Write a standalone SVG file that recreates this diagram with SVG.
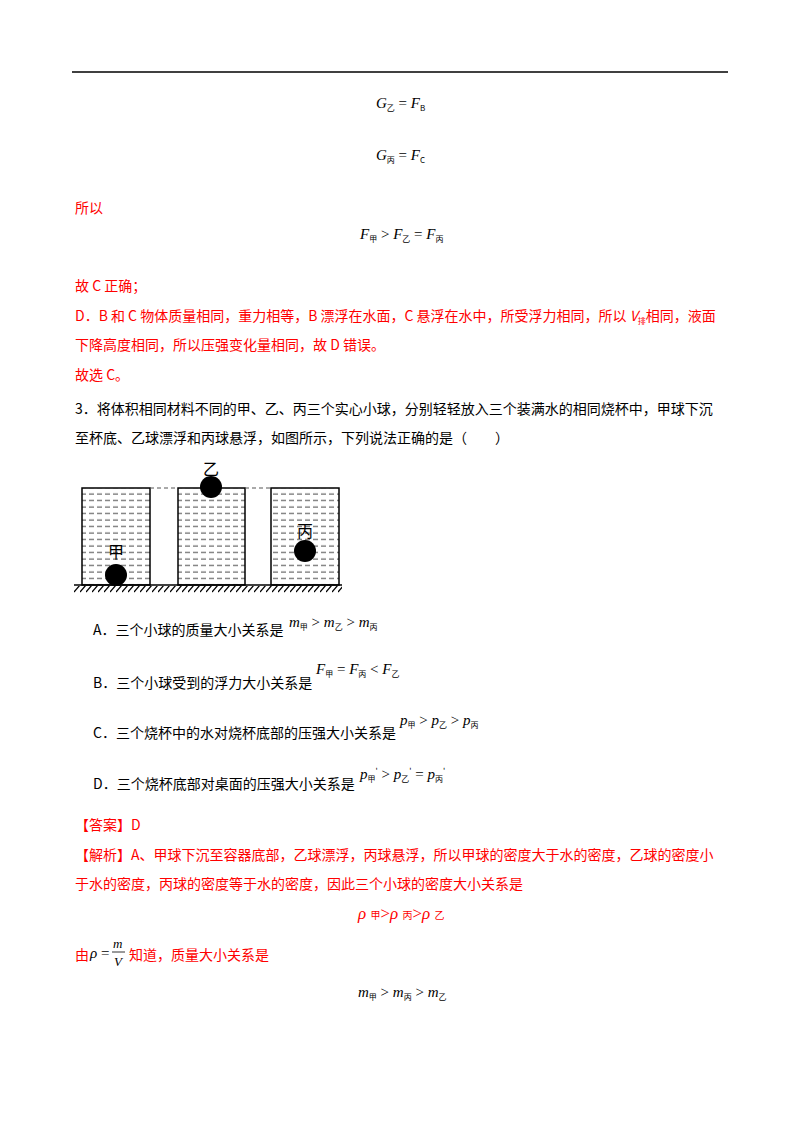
<svg xmlns="http://www.w3.org/2000/svg" width="800" height="1132" viewBox="0 0 800 1132">
<style>
text{font-family:"Liberation Serif","Noto Sans CJK SC",serif;font-size:14px;fill:#000}
.r{fill:#ff0000}
.m{font-family:"Liberation Serif",serif;font-style:italic;font-size:15px}
.s{font-size:8px;font-style:normal;font-family:"Noto Sans CJK SC",serif}
.cn{font-family:"Noto Sans CJK SC",sans-serif}
.lb{font-family:"Noto Sans CJK SC",sans-serif;font-size:16px}
</style>
<defs>
<pattern id="w" width="8" height="6.5" patternUnits="userSpaceOnUse" x="0" y="491">
<line x1="1" y1="3" x2="6" y2="3" stroke="#444" stroke-width="1"/>
</pattern>
<pattern id="h" width="6" height="8" patternUnits="userSpaceOnUse" x="74" y="585">
<line x1="6" y1="0" x2="0" y2="7" stroke="#000" stroke-width="1.2"/>
</pattern>
</defs>
<line x1="72" y1="72" x2="728" y2="72" stroke="#000" stroke-width="1.5"/>
<text x="376" y="108" class="m">G<tspan class="s" dy="3">乙</tspan><tspan dy="-3" style="font-style:normal"> = </tspan>F<tspan class="s" dy="3">B</tspan></text>
<text x="376" y="160" class="m">G<tspan class="s" dy="3">丙</tspan><tspan dy="-3" style="font-style:normal"> = </tspan>F<tspan class="s" dy="3">C</tspan></text>
<text x="75" y="213" class="r cn">所以</text>
<text x="360" y="239" class="m">F<tspan class="s" dy="3">甲</tspan><tspan dy="-3" style="font-style:normal"> &gt; </tspan>F<tspan class="s" dy="3">乙</tspan><tspan dy="-3" style="font-style:normal"> = </tspan>F<tspan class="s" dy="3">丙</tspan></text>
<text x="75" y="291" class="r cn">故 C 正确；</text>
<text x="75" y="321" class="r cn">D．B 和 C 物体质量相同，重力相等，B 漂浮在水面，C 悬浮在水中，所受浮力相同，所以 <tspan style="font-style:italic">V</tspan><tspan class="s" dy="3">排</tspan><tspan dy="-3">相同，液面</tspan></text>
<text x="75" y="350" class="r cn">下降高度相同，所以压强变化量相同，故 D 错误。</text>
<text x="75" y="380" class="r cn">故选 C。</text>
<text x="75" y="414" class="cn">3．将体积相同材料不同的甲、乙、丙三个实心小球，分别轻轻放入三个装满水的相同烧杯中，甲球下沉</text>
<text x="75" y="443" class="cn">至杯底、乙球漂浮和丙球悬浮，如图所示，下列说法正确的是（　　）</text>
<g id="figure">
<rect x="82" y="488" width="68" height="97" fill="url(#w)" stroke="#000" stroke-width="1.5"/>
<rect x="178" y="488" width="67" height="97" fill="url(#w)" stroke="#000" stroke-width="1.5"/>
<rect x="271" y="488" width="68" height="97" fill="url(#w)" stroke="#000" stroke-width="1.5"/>
<line x1="150" y1="488" x2="178" y2="488" stroke="#555" stroke-dasharray="4,3"/>
<line x1="245" y1="488" x2="271" y2="488" stroke="#555" stroke-dasharray="4,3"/>
<line x1="74" y1="585" x2="342" y2="585" stroke="#000" stroke-width="1.5"/>
<rect x="74" y="586" width="268" height="7" fill="url(#h)"/>
<circle cx="116" cy="575" r="11"/>
<circle cx="211" cy="487" r="11"/>
<circle cx="305" cy="551" r="11"/>
<text x="108" y="558" class="lb">甲</text>
<text x="203" y="475" class="lb">乙</text>
<text x="297" y="537" class="lb">丙</text>
</g>
<text x="93" y="635" class="cn">A．三个小球的质量大小关系是</text>
<text x="289" y="627" class="m">m<tspan class="s" dy="3">甲</tspan><tspan dy="-3" style="font-style:normal"> &gt; </tspan>m<tspan class="s" dy="3">乙</tspan><tspan dy="-3" style="font-style:normal"> &gt; </tspan>m<tspan class="s" dy="3">丙</tspan></text>
<text x="93" y="688" class="cn">B．三个小球受到的浮力大小关系是</text>
<text x="316" y="674" class="m">F<tspan class="s" dy="3">甲</tspan><tspan dy="-3" style="font-style:normal"> = </tspan>F<tspan class="s" dy="3">丙</tspan><tspan dy="-3" style="font-style:normal"> &lt; </tspan>F<tspan class="s" dy="3">乙</tspan></text>
<text x="93" y="738" class="cn">C．三个烧杯中的水对烧杯底部的压强大小关系是</text>
<text x="400" y="725" class="m">p<tspan class="s" dy="3">甲</tspan><tspan dy="-3" style="font-style:normal"> &gt; </tspan>p<tspan class="s" dy="3">乙</tspan><tspan dy="-3" style="font-style:normal"> &gt; </tspan>p<tspan class="s" dy="3">丙</tspan></text>
<text x="93" y="789" class="cn">D．三个烧杯底部对桌面的压强大小关系是</text>
<text x="360" y="779" class="m">p<tspan class="s" dy="3">甲</tspan><tspan dy="-8" class="s">'</tspan><tspan dy="5" style="font-style:normal"> &gt; </tspan>p<tspan class="s" dy="3">乙</tspan><tspan dy="-8" class="s">'</tspan><tspan dy="5" style="font-style:normal"> = </tspan>p<tspan class="s" dy="3">丙</tspan><tspan dy="-8" class="s">'</tspan></text>
<text x="75" y="830" class="r cn">【答案】D</text>
<text x="75" y="860" class="r cn">【解析】A、甲球下沉至容器底部，乙球漂浮，丙球悬浮，所以甲球的密度大于水的密度，乙球的密度小</text>
<text x="75" y="889" class="r cn">于水的密度，丙球的密度等于水的密度，因此三个小球的密度大小关系是</text>
<text x="358" y="919" class="r" style="font-style:italic;font-size:17px">ρ <tspan style="font-size:10px;font-style:normal">甲</tspan><tspan style="font-style:normal">&gt;</tspan>ρ <tspan style="font-size:10px;font-style:normal">丙</tspan><tspan style="font-style:normal">&gt;</tspan>ρ <tspan style="font-size:10px;font-style:normal">乙</tspan></text>
<text x="75" y="960" class="r cn">由</text>
<text x="90" y="958" class="m">ρ <tspan style="font-style:normal">=</tspan></text>
<text x="113" y="948" class="m" style="font-size:13px">m</text>
<line x1="112" y1="952" x2="125" y2="952" stroke="#000" stroke-width="0.8"/>
<text x="114" y="966" class="m" style="font-size:13px">V</text>
<text x="129" y="960" class="r cn">知道，质量大小关系是</text>
<text x="358" y="997" class="m">m<tspan class="s" dy="3">甲</tspan><tspan dy="-3" style="font-style:normal"> &gt; </tspan>m<tspan class="s" dy="3">丙</tspan><tspan dy="-3" style="font-style:normal"> &gt; </tspan>m<tspan class="s" dy="3">乙</tspan></text>
</svg>
